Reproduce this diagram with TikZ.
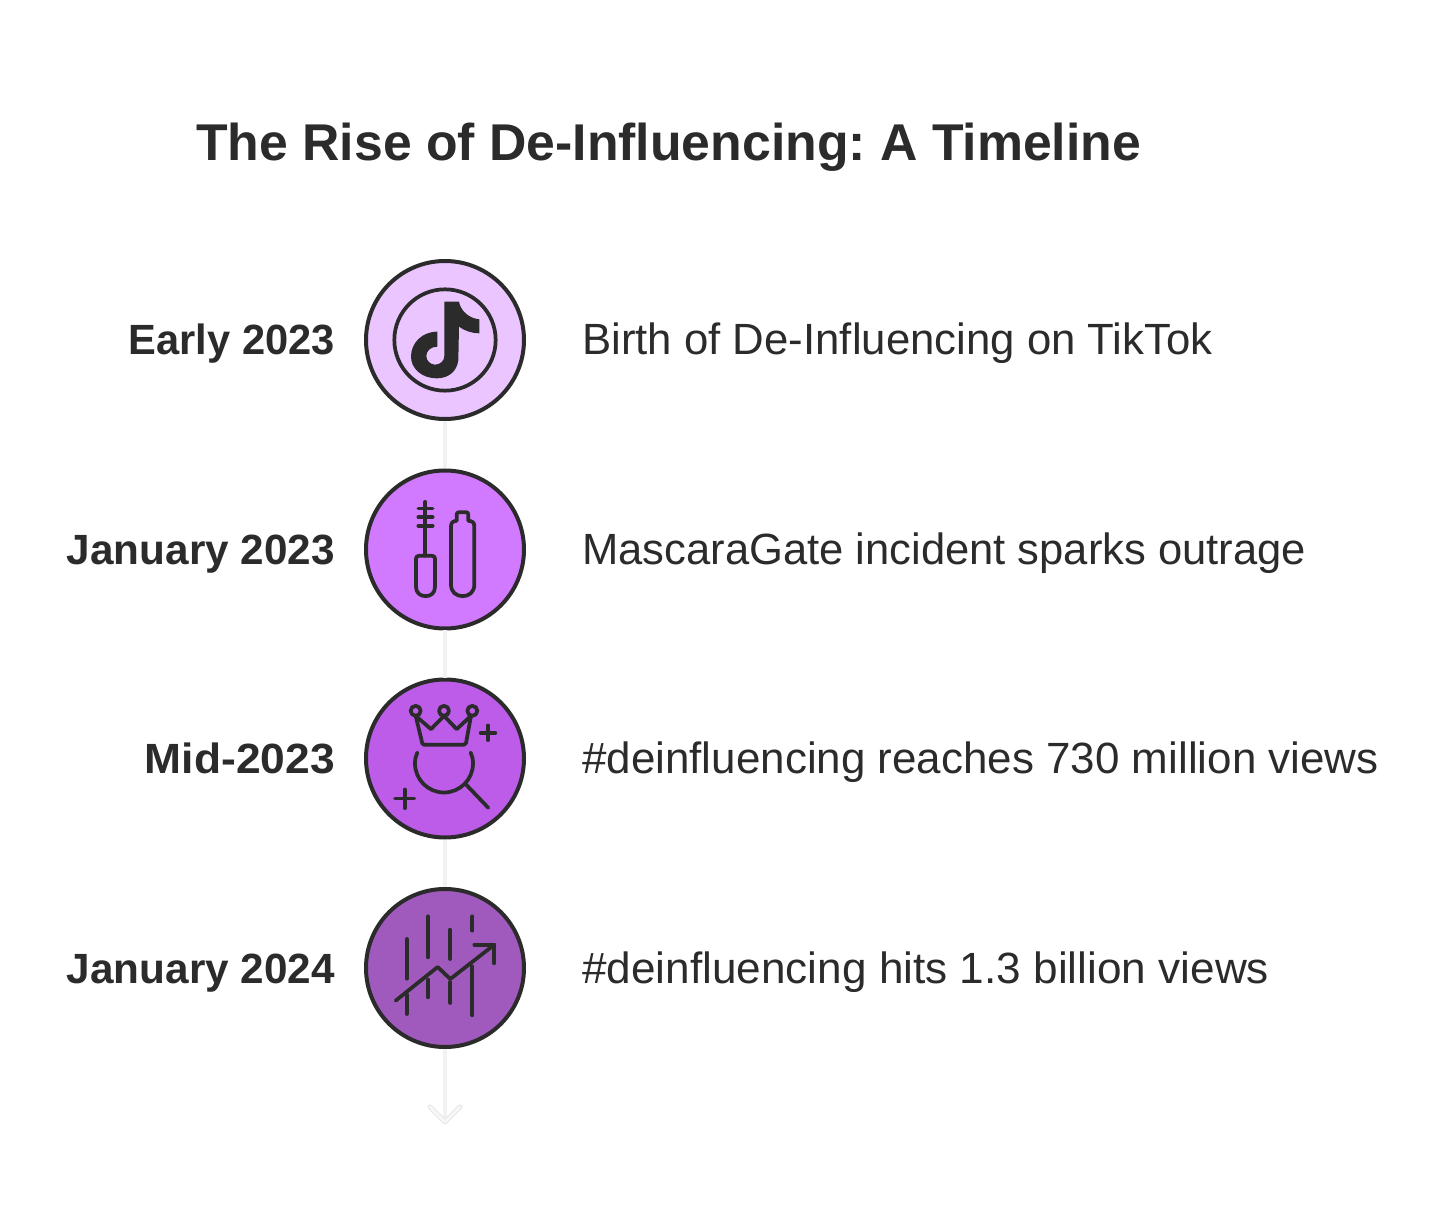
\documentclass[tikz,border=0pt]{standalone}
\usepackage{fontspec}
\setmainfont{Liberation Sans}
\frenchspacing
\definecolor{ink}{HTML}{2B2B2B}
\definecolor{axis}{HTML}{F2F2F2}
\definecolor{tipedge}{HTML}{E8E2E8}
\definecolor{fa}{HTML}{EAC5FF}
\definecolor{fb}{HTML}{D27AFF}
\definecolor{fc}{HTML}{BC5CE9}
\definecolor{fd}{HTML}{A05ABD}
\tikzset{
  px/.style={x=0.75pt,y=-0.75pt},
  badge/.style={circle,draw=ink,line width=3pt,minimum size=118.5pt,inner sep=0pt},
  datelabel/.style={anchor=base east,inner sep=0pt,text=ink,font=\fontsize{31.7pt}{36pt}\selectfont\bfseries},
  eventlabel/.style={anchor=base west,inner sep=0pt,text=ink,font=\fontsize{32.8pt}{36pt}\selectfont},
  titlelabel/.style={anchor=base west,inner sep=0pt,text=ink,font=\fontsize{38.8pt}{44pt}\selectfont\bfseries},
  spine/.style={draw=axis,line width=3pt},
  icon/.style={draw=ink,line width=2.8pt,line cap=round,line join=round},
  iconscale/.style={x=0.25pt,y=-0.25pt},
}
\begin{document}
\begin{tikzpicture}[px]
\useasboundingbox[fill=white] (0,0) rectangle (1440,1230);
\node[titlelabel] (title) at (196,161) {The Rise of De-Influencing: A Timeline};
\node[badge,fill=fa] (c1) at (445,340) {};
\node[badge,fill=fb] (c2) at (445,549.5) {};
\node[badge,fill=fc] (c3) at (445,758.5) {};
\node[badge,fill=fd] (c4) at (445,968) {};
\coordinate (end) at (445,1122);
\coordinate (tipl) at (430,1107);
\coordinate (tipr) at (460,1107);
\draw[spine] (c1) -- (c2);
\draw[spine] (c2) -- (c3);
\draw[spine] (c3) -- (c4);
\draw[spine] (c4) -- (end);
\draw[draw=tipedge,line width=3.6pt,line cap=round,line join=round] (tipl) -- (end) -- (tipr);
\draw[draw=axis!60!white,line width=2.2pt,line cap=round,line join=round] (tipl) -- (end) -- (tipr);
\node[datelabel] (d1) at (335,355) {\scalebox{0.985}[1]{Early 2023}};
\node[datelabel] (d2) at (335,564.5) {January 2023};
\node[datelabel] (d3) at (335,773.5) {\scalebox{1.05}[1]{Mid-2023}};
\node[datelabel] (d4) at (335,983) {January 2024};
\node[eventlabel] (e1) at (582,355) {Birth of De-Influencing on TikTok};
\node[eventlabel] (e2) at (582,564.5) {\scalebox{0.996}[1]{MascaraGate incident sparks outrage}};
\node[eventlabel] (e3) at (582,773.5) {\scalebox{1.005}[1]{\#deinfluencing reaches 730 million views}};
\node[eventlabel] (e4) at (582,983) {\scalebox{1.009}[1]{\#deinfluencing hits 1.3 billion views}};
% TikTok icon
\begin{scope}[shift={(c1.center)},iconscale]
\draw[icon] (0,0) circle (152);
\fill[ink,even odd rule] (-2,-115) -- (42,-115)
  .. controls (46,-90) and (70,-65) .. (103,-62) -- (103,-20)
  .. controls (80,-20) and (58,-28) .. (42,-40) -- (40,60)
  .. controls (36,95) and (10,115) .. (-25,115)
  .. controls (-70,115) and (-102,85) .. (-102,50)
  .. controls (-102,10) and (-70,-25) .. (-23,-25) -- (-23,20)
  .. controls (-42,20) and (-56,32) .. (-56,48)
  .. controls (-56,62) and (-44,74) .. (-30,74)
  .. controls (-14,74) and (-2,62) .. (-2,48) -- cycle;
\end{scope}
% Mascara icon
\begin{scope}[shift={(c2.center)},iconscale]
\draw[icon] (-59,-143) -- (-59,18);
\draw[icon] (-80,-123) -- (-37,-123) (-80,-97) -- (-37,-97) (-80,-71) -- (-37,-71);
\draw[icon] (-87,28) .. controls (-87,22) and (-84,19) .. (-78,19) -- (-39,19)
  .. controls (-33,19) and (-30,22) .. (-30,28) -- (-30,112)
  .. controls (-30,130) and (-42,140) .. (-58,140)
  .. controls (-74,140) and (-87,130) .. (-87,112) -- cycle;
\draw[icon] (18,-70) .. controls (18,-80) and (24,-86) .. (35,-86) -- (35,-105)
  .. controls (35,-110) and (38,-112) .. (43,-112) -- (62,-112)
  .. controls (67,-112) and (70,-110) .. (70,-105) -- (70,-86)
  .. controls (82,-86) and (88,-80) .. (88,-70) -- (88,105)
  .. controls (88,128) and (72,140) .. (53,140)
  .. controls (34,140) and (18,128) .. (18,105) -- cycle;
\end{scope}
% Crown and magnifier icon
\begin{scope}[shift={(c3.center)},iconscale]
\draw[icon] (-88,-143) circle (15) (-3,-143) circle (15) (82,-143) circle (15);
\draw[icon] (-88,-128) -- (-68,-45) .. controls (-66,-41) and (-64,-41) .. (-62,-41) -- (56,-41)
  .. controls (60,-41) and (62,-42) .. (63,-46) -- (78,-128) -- (35,-88) -- (-3,-128) -- (-42,-88) -- cycle;
\draw[icon] (-83,-18) .. controls (-88,-8) and (-90,3) .. (-90,15)
  .. controls (-90,63) and (-51,102) .. (-3,102)
  .. controls (45,102) and (84,63) .. (84,15)
  .. controls (84,3) and (82,-8) .. (77,-18);
\draw[icon] (62,77) -- (130,148);
\draw[icon] (107,-77) -- (151,-77) (129,-99) -- (129,-55);
\draw[icon] (-150,120) -- (-92,120) (-121,93) -- (-121,149);
\end{scope}
% Chart icon
\begin{scope}[shift={(c4.center)},iconscale]
\draw[icon] (-115,-87) -- (-115,32) (-115,80) -- (-115,138);
\draw[icon] (-50,-155) -- (-50,-32) (-50,35) -- (-50,88);
\draw[icon] (16,-115) -- (16,-27) (16,42) -- (16,105);
\draw[icon] (82,-155) -- (82,-112) (82,-5) -- (82,142);
\draw[icon] (-148,98) -- (-22,-3) -- (16,33) -- (148,-70);
\draw[icon] (88,-70) -- (148,-70) -- (148,-14);
\end{scope}
\end{tikzpicture}
\end{document}
